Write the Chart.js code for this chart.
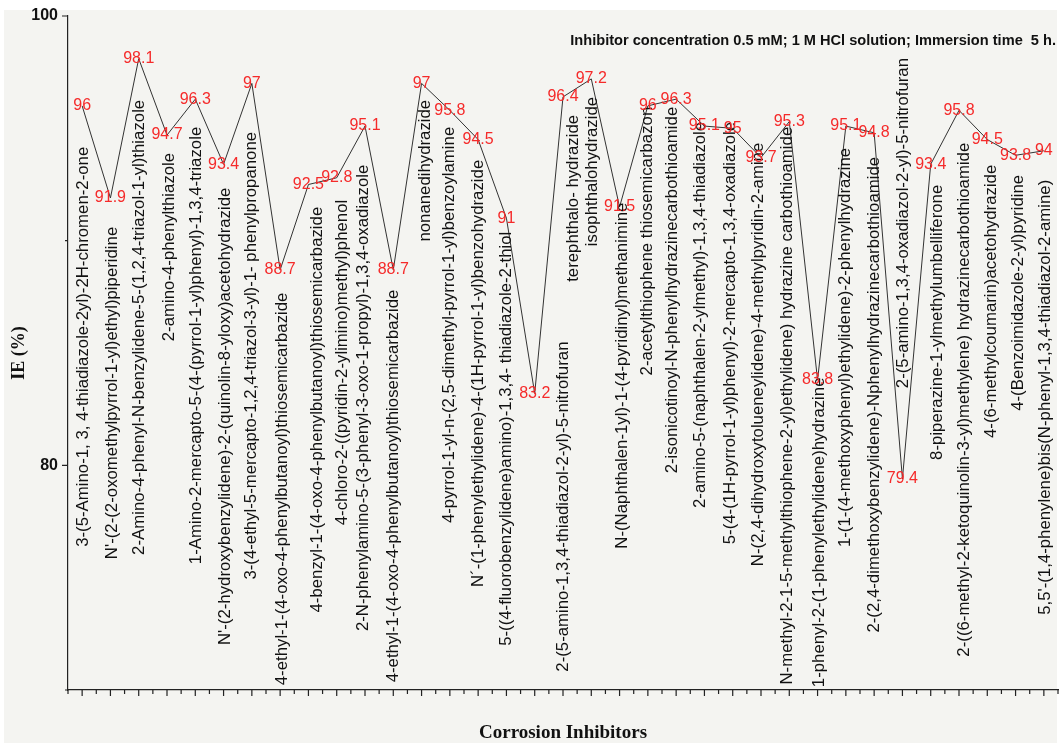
<!DOCTYPE html>
<html>
<head>
<meta charset="utf-8">
<script src="https://cdn.jsdelivr.net/npm/chart.js@4.4.1/dist/chart.umd.min.js"></script>
<style>
  html, body { margin: 0; padding: 0; background: #ffffff; }
  #wrap { width: 1063px; height: 743px; position: relative; }
</style>
</head>
<body>
<div id="wrap"><canvas id="chart" width="1063" height="743"></canvas></div>
<script>
// Corrosion inhibitors (x categories)
const inhibitors = [
  "3-(5-Amino-1, 3, 4-thiadiazole-2yl)-2H-chromen-2-one",
  "N'-(2-(2-oxomethylpyrrol-1-yl)ethyl)piperidine",
  "2-Amino-4-phenyl-N-benzylidene-5-(1,2,4-triazol-1-yl)thiazole",
  "2-amino-4-phenylthiazole",
  "1-Amino-2-mercapto-5-(4-(pyrrol-1-yl)phenyl)-1,3,4-triazole",
  "N'-(2-hydroxybenzylidene)-2-(quinolin-8-yloxy)acetohydrazide",
  "3-(4-ethyl-5-mercapto-1,2,4-triazol-3-yl)-1- phenylpropanone",
  "4-ethyl-1-(4-oxo-4-phenylbutanoyl)thiosemicarbazide",
  "4-benzyl-1-(4-oxo-4-phenylbutanoyl)thiosemicarbazide",
  "4-chloro-2-((pyridin-2-ylimino)methyl)phenol",
  "2-N-phenylamino-5-(3-phenyl-3-oxo-1-propyl)-1,3,4-oxadiazole",
  "4-ethyl-1-(4-oxo-4-phenylbutanoyl)thiosemicarbazide",
  "nonanedihydrazide",
  "4-pyrrol-1-yl-n-(2,5-dimethyl-pyrrol-1-yl)benzoylamine",
  "N\u00b4-(1-phenylethylidene)-4-(1H-pyrrol-1-yl)benzohydrazide",
  "5-((4-fluorobenzylidene)amino)-1,3,4- thiadiazole-2-thiol",
  "2-(5-amino-1,3,4-thiadiazol-2-yl)-5-nitrofuran",
  "terephthalo- hydrazide",
  "isophthalohydrazide",
  "N-(Naphthalen-1yl)-1-(4-pyridinyl)methanimine",
  "2-acetylthiophene thiosemicarbazon",
  "2-isonicotinoyl-N-phenylhydrazinecarbothioamide",
  "2-amino-5-(naphthalen-2-ylmethyl)-1,3,4-thiadiazole",
  "5-(4-(1H-pyrrol-1-yl)phenyl)-2-mercapto-1,3,4-oxadiazole",
  "N-(2,4-dihydroxytolueneylidene)-4-methylpyridin-2-amine",
  "N-methyl-2-1-5-methylthiophene-2-yl)ethylidene) hydrazine carbothioamide",
  "1-phenyl-2-(1-phenylethylidene)hydrazine",
  "1-(1-(4-methoxyphenyl)ethylidene)-2-phenylhydrazine",
  "2-(2,4-dimethoxybenzylidene)-Nphenylhydrazinecarbothioamide",
  "2-(5-amino-1,3,4-oxadiazol-2-yl)-5-nitrofuran",
  "8-piperazine-1-ylmethylumbelliferone",
  "2-((6-methyl-2-ketoquinolin-3-yl)methylene) hydrazinecarbothioamide",
  "4-(6-methylcoumarin)acetohydrazide",
  "4-(Benzoimidazole-2-yl)pyridine",
  "5,5'-(1,4-phenylene)bis(N-phenyl-1,3,4-thiadiazol-2-amine)"
];

// Inhibition efficiency, %
const efficiency = [
  96, 91.9, 98.1, 94.7, 96.3, 93.4, 97, 88.7, 92.5, 92.8,
  95.1, 88.7, 97, 95.8, 94.5, 91, 83.2, 96.4, 97.2, 91.5,
  96, 96.3, 95.1, 95, 93.7, 95.3, 83.8, 95.1, 94.8, 79.4,
  93.4, 95.8, 94.5, 93.8, 94
];

// Value axis
const yMin = 70;
const yMax = 100;
const yStep = 10;
const yLabelledTicks = [80, 100];

const conditionsNote = "Inhibitor concentration 0.5 mM; 1 M HCl solution; Immersion time  5 h.";

// Placement of the vertical compound names: where each name ends (IE units)
// and a sideways nudge in category widths
const nameTopIE = [
  94.18, 90.62, 96.27, 93.91, 95.07, 92.36, 94.84, 87.69, 91.51, 91.82,
  93.38, 87.82, 96.27, 95.07, 93.6, 90.4, 85.51, 95.6, 96.4, 91.69,
  95.96, 95.96, 95.29, 95.29, 94.36, 95.07, 83.91, 94.13, 93.73, 98.13,
  92.49, 94.36, 93.38, 92.93, 92.71
];
const nameShift = [
  0.04, 0.07, 0.04, 0.1, 0.04, 0.07, 0, 0.07, 0.32, 0.2,
  -0.07, 0, 0.14, 0, 0, 0, 1.0, 0.35, 0.04, 0.1,
  0, -0.14, -0.14, -0.07, -0.1, -0.07, 0.07, 0, 0, 0.04,
  0.25, 0.18, 0.14, 0.1, 0.07
];

const SANS = "'Liberation Sans', Arial, Helvetica, sans-serif";
const SERIF = "'Liberation Serif', 'Times New Roman', Times, serif";

const paperBackground = {
  id: 'paperBackground',
  beforeDraw(chart) {
    const ctx = chart.ctx;
    ctx.save();
    ctx.fillStyle = '#ffffff';
    ctx.fillRect(0, 0, chart.width, chart.height);
    ctx.fillStyle = '#f4f4f1';
    ctx.fillRect(4, 10, 1053, chart.height - 10);
    ctx.restore();
  }
};

const axisTicks = {
  id: 'axisTicks',
  afterDraw(chart) {
    const ctx = chart.ctx;
    const xs = chart.scales.x, ys = chart.scales.y;
    const area = chart.chartArea;
    ctx.save();
    ctx.strokeStyle = '#222';
    ctx.lineWidth = 1.2;
    ctx.beginPath();
    // value axis: labelled ticks long, others short
    ys.ticks.forEach(t => {
      const y = ys.getPixelForValue(t.value);
      const len = yLabelledTicks.includes(t.value) ? 6 : 3;
      ctx.moveTo(area.left, y);
      ctx.lineTo(area.left - len, y);
    });
    // category axis: long ticks at each compound, short ticks between
    const n = inhibitors.length;
    const half = (xs.getPixelForValue(1) - xs.getPixelForValue(0)) / 2;
    for (let i = 0; i < n; i++) {
      const x = xs.getPixelForValue(i);
      ctx.moveTo(x, area.bottom);
      ctx.lineTo(x, area.bottom + 6);
      ctx.moveTo(x - half, area.bottom);
      ctx.lineTo(x - half, area.bottom + 4);
      if (i === n - 1) {
        ctx.moveTo(x + half, area.bottom);
        ctx.lineTo(x + half, area.bottom + 4);
      }
    }
    ctx.stroke();
    ctx.restore();
  }
};

const compoundNames = {
  id: 'compoundNames',
  afterDatasetsDraw(chart) {
    const ctx = chart.ctx;
    const xs = chart.scales.x, ys = chart.scales.y;
    const step = xs.getPixelForValue(1) - xs.getPixelForValue(0);
    ctx.save();
    ctx.fillStyle = '#111';
    ctx.font = '16.8px ' + SANS;
    ctx.textAlign = 'right';
    ctx.textBaseline = 'middle';
    inhibitors.forEach((name, i) => {
      const x = xs.getPixelForValue(i) + nameShift[i] * step;
      const y = ys.getPixelForValue(nameTopIE[i]);
      ctx.save();
      ctx.translate(x, y);
      ctx.rotate(-Math.PI / 2);
      ctx.fillText(name, 0, 0);
      ctx.restore();
    });
    ctx.restore();
  }
};

const valueLabels = {
  id: 'valueLabels',
  afterDatasetsDraw(chart) {
    const ctx = chart.ctx;
    const meta = chart.getDatasetMeta(0);
    ctx.save();
    ctx.fillStyle = '#f52a2a';
    ctx.font = '16px ' + SANS;
    ctx.textAlign = 'center';
    ctx.textBaseline = 'middle';
    meta.data.forEach((pt, i) => {
      ctx.fillText(String(efficiency[i]), pt.x, pt.y);
    });
    ctx.restore();
  }
};

const noteText = {
  id: 'noteText',
  afterDraw(chart) {
    const ctx = chart.ctx;
    const area = chart.chartArea;
    ctx.save();
    ctx.fillStyle = '#111';
    ctx.font = 'bold 14.6px ' + SANS;
    ctx.textAlign = 'right';
    ctx.textBaseline = 'middle';
    ctx.fillText(conditionsNote, area.right - 2, 41);
    ctx.restore();
  }
};

new Chart(document.getElementById('chart'), {
  type: 'line',
  data: {
    labels: inhibitors,
    datasets: [{
      data: efficiency,
      borderColor: '#333333',
      borderWidth: 1,
      pointRadius: 0,
      pointHoverRadius: 0,
      tension: 0,
      fill: false
    }]
  },
  options: {
    responsive: false,
    animation: false,
    devicePixelRatio: 1,
    layout: { padding: { top: 16, right: 5, left: 0, bottom: 0 } },
    plugins: {
      legend: { display: false },
      tooltip: { enabled: false }
    },
    scales: {
      x: {
        type: 'category',
        offset: true,
        grid: { display: false, drawTicks: false },
        border: { display: true, color: '#222', width: 1.2 },
        ticks: { display: false },
        title: {
          display: true,
          text: 'Corrosion Inhibitors',
          color: '#111',
          font: { family: SERIF, size: 19, weight: 'bold' },
          padding: { top: 0, bottom: -1 }
        },
        afterFit(scale) { scale.height = 53; }
      },
      y: {
        min: yMin,
        max: yMax,
        grid: { display: false, drawTicks: true, tickLength: 6 },
        border: { display: true, color: '#222', width: 1.2 },
        ticks: {
          stepSize: yStep,
          padding: 4,
          color: '#111',
          font: { family: SANS, size: 16, weight: 'bold' },
          callback: v => yLabelledTicks.includes(v) ? String(v) : ''
        },
        title: {
          display: true,
          text: 'IE (%)',
          color: '#111',
          font: { family: SERIF, size: 18, weight: 'bold' },
          padding: { top: 9, bottom: 0 }
        },
        afterFit(scale) { scale.width = 68; }
      }
    }
  },
  plugins: [paperBackground, axisTicks, compoundNames, valueLabels, noteText]
});
</script>
</body>
</html>
